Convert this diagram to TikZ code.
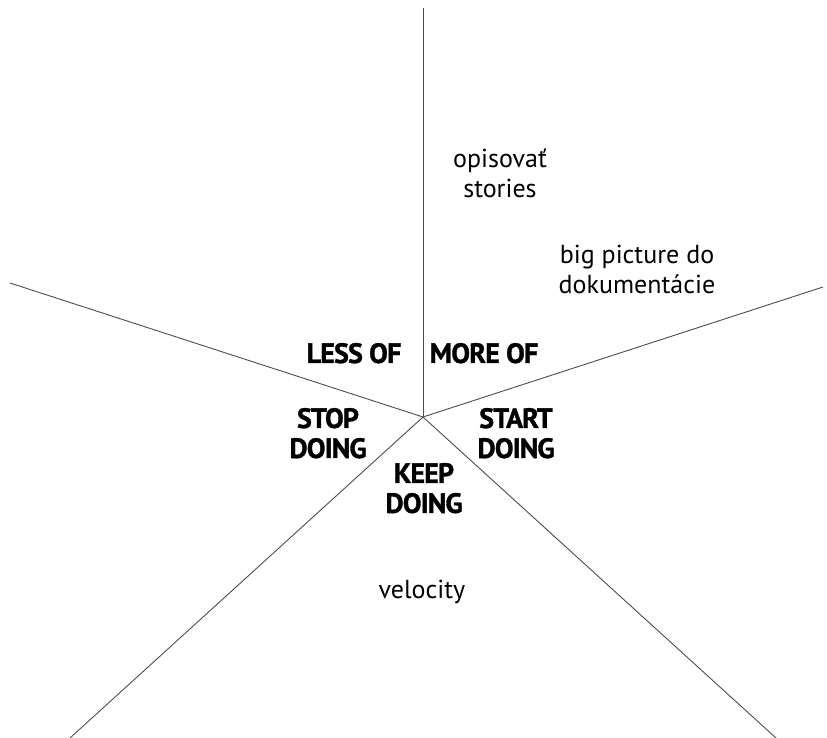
\documentclass[tikz,border=0pt]{standalone}
\usepackage{fontspec}
\setmainfont{PT Sans}
\newfontfamily\lblfont{PT Sans Bold}[LetterSpace=-3,FakeBold=1.2]
\begin{document}
\begin{tikzpicture}[x=1pt,y=-1pt,
  ray/.style={draw=black!70,line width=0.9pt},
  lbl/.style={font=\fontsize{28}{30}\lblfont, align=center, inner sep=0pt, text depth=0pt},
  note/.style={font=\fontsize{26}{30}\selectfont, align=center, inner sep=0pt}]
\useasboundingbox (0,0) rectangle (827,738);
\coordinate (c) at (423,417);
\coordinate (top) at (423,8);
\coordinate (left) at (10,283);
\coordinate (right) at (823,287);
\coordinate (bl) at (70,738);
\coordinate (br) at (776,738);
\draw[ray] (c) -- (top);
\draw[ray] (c) -- (left);
\draw[ray] (c) -- (right);
\draw[ray] (c) -- (bl);
\draw[ray] (c) -- (br);
\node[lbl] (less) at (354,353) {LESS OF};
\node[lbl] (more) at (484,353) {MORE OF};
\node[lbl] (stop) at (328,433) {STOP\\DOING};
\node[lbl] (start) at (516,433) {START\\DOING};
\node[lbl] (keep) at (424,488) {KEEP\\DOING};
\node[note] (opis) at (500,173) {opisovať\\stories};
\node[note] (big) at (637,269) {big picture do\\dokumentácie};
\node[note] (vel) at (422,592) {velocity};
\end{tikzpicture}
\end{document}
